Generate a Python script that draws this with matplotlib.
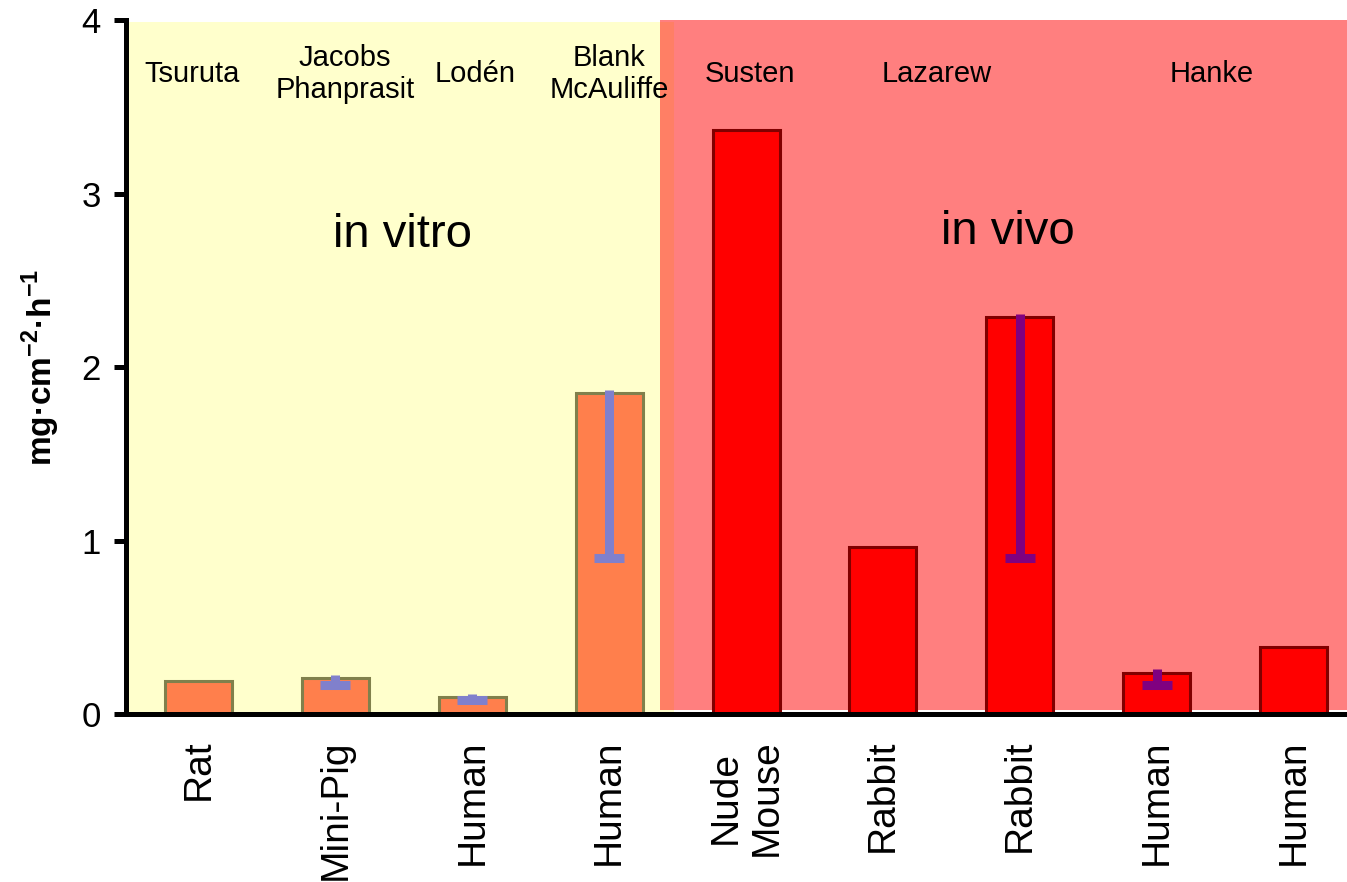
import numpy as np
import matplotlib.pyplot as plt
from matplotlib.patches import Rectangle

plt.rcParams['font.family'] = ['Liberation Sans', 'DejaVu Sans']
plt.rcParams['mathtext.fontset'] = 'custom'
plt.rcParams['mathtext.rm'] = 'Liberation Sans'
plt.rcParams['mathtext.bf'] = 'Liberation Sans:bold'

# данные
species = ["Rat", "Mini-Pig", "Human", "Human", "Nude\nMouse", "Rabbit", "Rabbit", "Human", "Human"]
rate = [0.19, 0.21, 0.10, 1.85, 3.365, 0.965, 2.29, 0.24, 0.39]
in_vivo = [False, False, False, False, True, True, True, True, True]

# диапазоны (нижняя граница с засечкой, верхняя)
err_idx = [1, 2, 3, 6, 7]
err_lo = [0.17, 0.085, 0.90, 0.90, 0.17]
err_hi = [0.225, 0.12, 1.87, 2.31, 0.26]

studies = ["Tsuruta", "Jacobs\nPhanprasit", "Lodén", "Blank\nMcAuliffe", "Susten", "Lazarew", "Hanke"]
study_x = [-0.05, 1.07, 2.02, 3.0, 4.03, 5.39, 7.4]

x = np.arange(len(species))

fig = plt.figure(figsize=(13.47, 8.82), dpi=100)
ax = fig.add_axes([0.0935, 0.19, 0.9065, 0.787])

# фоновые области: in vitro / in vivo
vitro_x0, vitro_x1 = -0.6, 3.47
vivo_x0, vivo_x1 = 3.37, 8.6
ax.add_patch(Rectangle((vitro_x0, 0), vitro_x1 - vitro_x0, 3.99, facecolor="#FFFFCC", edgecolor="none", zorder=0))
ax.hlines(0.006, vitro_x0, vitro_x1, colors="#80804C", linewidth=2, zorder=0.2)
ax.add_patch(Rectangle((vivo_x0, 0.023), vivo_x1 - vivo_x0, 3.99, facecolor="red", alpha=0.5, edgecolor="none", zorder=0.5))

face = ["red" if v else "#FF7F4C" for v in in_vivo]
edge = ["#800000" if v else "#80804C" for v in in_vivo]
ax.bar(x, rate, width=0.49, color=face, edgecolor=edge, linewidth=2.2, zorder=2)

ecol = ["#800080" if in_vivo[i] else "#8080CC" for i in err_idx]
ax.vlines(x[err_idx], err_lo, err_hi, colors=ecol, linewidth=6.5, capstyle="butt", zorder=3)
ax.hlines(err_lo, x[err_idx] - 0.11, x[err_idx] + 0.11, colors=ecol, linewidth=6.5, capstyle="butt", zorder=3)

for name, sx in zip(studies, study_x):
    ax.text(sx, 3.69, name, ha="center", va="center", fontsize=21, zorder=4)

ax.text(1.49, 2.76, "in vitro", ha="center", va="center", fontsize=34, zorder=4)
ax.text(5.91, 2.78, "in vivo", ha="center", va="center", fontsize=34, zorder=4)

ax.set_xlim(-0.53, 8.39)
ax.set_ylim(0, 4)
ax.set_yticks([0, 1, 2, 3, 4])
ax.set_xticks(x)
ax.set_xticklabels(species, rotation=90, fontsize=28, multialignment="center")
ax.tick_params(axis="x", length=0, pad=18)
ax.tick_params(axis="y", length=9, width=3.6, labelsize=25, pad=9)

for s in ["top", "right"]:
    ax.spines[s].set_visible(False)
for s in ["left", "bottom"]:
    ax.spines[s].set_linewidth(3.6)
    ax.spines[s].set_zorder(5)
ax.patch.set_visible(False)

ax.set_ylabel(r"mg·cm$^{\mathbf{-2}}$·h$^{\mathbf{-1}}$", fontsize=24, fontweight="bold", labelpad=14)

fig.savefig("out.png", dpi=100)
